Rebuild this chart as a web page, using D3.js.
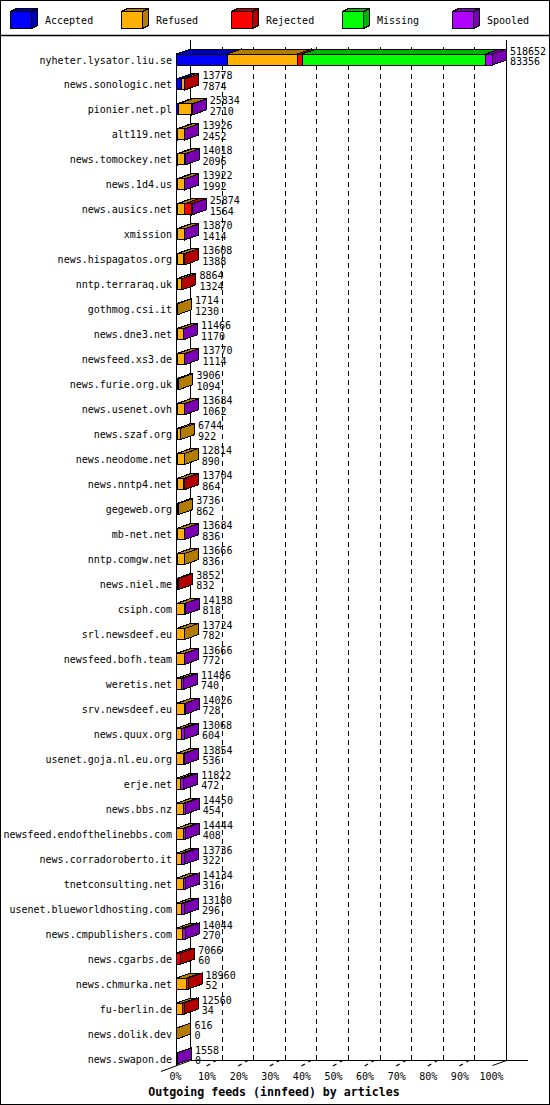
<!DOCTYPE html>
<html>
<head>
<meta charset="utf-8">
<script src="https://cdn.jsdelivr.net/npm/d3@7"></script>
<style>
  body { margin: 0; background: #fff; }
  svg text { font-family: "DejaVu Sans Mono", monospace; font-size: 10px; fill: #000; }
</style>
</head>
<body>
<script>

// innfeed outgoing feeds, articles per peer
var hosts = ["nyheter.lysator.liu.se", "news.sonologic.net", "pionier.net.pl", "alt119.net", "news.tomockey.net",
  "news.1d4.us", "news.ausics.net", "xmission", "news.hispagatos.org", "nntp.terraraq.uk", "gothmog.csi.it",
  "news.dne3.net", "newsfeed.xs3.de", "news.furie.org.uk", "news.usenet.ovh", "news.szaf.org", "news.neodome.net",
  "news.nntp4.net", "gegeweb.org", "mb-net.net", "nntp.comgw.net", "news.niel.me", "csiph.com", "srl.newsdeef.eu",
  "newsfeed.bofh.team", "weretis.net", "srv.newsdeef.eu", "news.quux.org", "usenet.goja.nl.eu.org", "erje.net",
  "news.bbs.nz", "newsfeed.endofthelinebbs.com", "news.corradoroberto.it", "tnetconsulting.net",
  "usenet.blueworldhosting.com", "news.cmpublishers.com", "news.cgarbs.de", "news.chmurka.net", "fu-berlin.de",
  "news.dolik.dev", "news.swapon.de"];

var offered = [518652, 13778, 25834, 13926, 14018, 13922, 25874, 13870, 13608, 8864, 1714,
  11466, 13770, 3906, 13684, 6744, 12814, 13704, 3736, 13684, 13666, 3852, 14138, 13724,
  13666, 11486, 14026, 13068, 13854, 11822, 14450, 14444, 13736, 14134, 13180, 14044,
  7066, 18960, 12560, 616, 1558];

var accepted = [83356, 7874, 2710, 2452, 2096, 1992, 1564, 1414, 1388, 1324, 1230,
  1170, 1114, 1094, 1062, 922, 890, 864, 862, 836, 836, 832, 818, 782,
  772, 740, 728, 604, 536, 472, 454, 408, 322, 316, 296, 270,
  60, 52, 34, 0, 0];

var refused = [114900, 5400, 22400, 10874, 11322, 11330, 11500, 11856, 10920, 7040, 484,
  9796, 12056, 2812, 12022, 5822, 11924, 10600, 2874, 12248, 12830, 1000, 12720, 12942,
  12294, 7000, 12698, 8100, 11000, 6300, 11000, 11200, 8000, 11200, 8600, 9000,
  500, 16500, 9700, 616, 0];

var rejected = [8200, 504, 0, 0, 0, 0, 12300, 0, 1300, 500, 0,
  0, 0, 0, 0, 0, 0, 2240, 0, 0, 0, 2020, 0, 0,
  0, 0, 0, 0, 0, 0, 0, 0, 0, 0, 0, 0,
  6506, 2408, 2826, 0, 0];

var missing = [301196, 0, 0, 0, 0, 0, 0, 0, 0, 0, 0,
  0, 0, 0, 0, 0, 0, 0, 0, 0, 0, 0, 0, 0,
  0, 0, 0, 0, 0, 0, 0, 0, 0, 0, 0, 0,
  0, 0, 0, 0, 0];

var spooled = [11000, 0, 724, 600, 600, 600, 510, 600, 0, 0, 0,
  500, 600, 0, 600, 0, 0, 0, 0, 600, 0, 0, 600, 0,
  600, 3746, 600, 4364, 2318, 5050, 2996, 2836, 5414, 2618, 4284, 4774,
  0, 0, 0, 0, 1558];

var keys = ["Accepted", "Refused", "Rejected", "Missing", "Spooled"];
var colors = ["#0000ff", "#ffb000", "#ff0000", "#00ff00", "#b000ff"];
var pctTicks = [0, 10, 20, 30, 40, 50, 60, 70, 80, 90, 100];

var w = 550;
var h = 1105;
var depthX = 14, depthY = -5;
var barH = 11;

var table = hosts.map(function(name, i) {
  return { host: name, Accepted: accepted[i], Refused: refused[i], Rejected: rejected[i],
           Missing: missing[i], Spooled: spooled[i], offered: offered[i] };
});

var svg = d3.select("body")
            .append("svg")
            .attr("width", w)
            .attr("height", h);

var color = d3.scaleOrdinal().domain(keys).range(colors);
function dark(c) { return d3.rgb(c).darker(1).formatHex(); }

// draws one 3d box: front, top and right side
function box(g, x0, x1, t, b, ddx, ddy, c) {
  g.append("polygon")
    .attr("points", [[x0, t], [x0 + ddx, t + ddy], [x1 + ddx, t + ddy], [x1, t]].join(" "))
    .attr("fill", dark(c)).attr("stroke", "#000");
  g.append("rect")
    .attr("x", x0).attr("y", t).attr("width", x1 - x0).attr("height", b - t)
    .attr("fill", c).attr("stroke", "#000");
  g.append("polygon")
    .attr("points", [[x1, t], [x1 + ddx, t + ddy], [x1 + ddx, b + ddy], [x1, b]].join(" "))
    .attr("fill", dark(c)).attr("stroke", "#000");
}

// frame and legend separator
svg.append("rect")
   .attr("x", 0.5).attr("y", 0.5).attr("width", w - 1).attr("height", h - 1)
   .attr("fill", "#fff").attr("stroke", "#000");
svg.append("line")
   .attr("x1", 0).attr("x2", w).attr("y1", 35.5).attr("y2", 35.5)
   .attr("stroke", "#000").attr("stroke-width", 1.5);

// legend
var legend = svg.append("g").attr("shape-rendering", "crispEdges");
keys.forEach(function(k, i) {
  var bx = Math.round(10 + i * 110.5) + 0.5;
  box(legend, bx, bx + 21, 11.5, 28.5, 6, -3, color(k));
  legend.append("text").attr("x", bx + 34.5).attr("y", 24).text(k);
});

// scales
var y = d3.scalePoint().domain(hosts).range([59.5, 1058.5]);
var x = d3.scaleLinear().domain([0, d3.max(offered)]).range([176.5, 492.5]);
var pct = d3.scaleLinear().domain([0, 100]).range([176.5, 492.5]);

var axisG = svg.append("g").attr("shape-rendering", "crispEdges");

// back wall
axisG.append("line")
  .attr("x1", pct(0) + depthX).attr("x2", pct(0) + depthX).attr("y1", 40).attr("y2", 1060.5)
  .attr("stroke", "#000");
axisG.append("line")
  .attr("x1", pct(100) + depthX).attr("x2", pct(100) + depthX).attr("y1", 40).attr("y2", 1060.5)
  .attr("stroke", "#000");
axisG.selectAll(".grid")
  .data(pctTicks.slice(1, -1))
  .enter()
  .append("line")
  .attr("class", "grid")
  .attr("x1", function(d) { return pct(d) + depthX; })
  .attr("x2", function(d) { return pct(d) + depthX; })
  .attr("y1", 47).attr("y2", 1060)
  .attr("stroke", "#000")
  .attr("stroke-dasharray", "5,4");

// floor
axisG.append("line")
  .attr("x1", pct(0) + depthX).attr("x2", 528).attr("y1", 1060.5).attr("y2", 1060.5)
  .attr("stroke", "#000");
svg.append("line")
  .attr("x1", pct(0) + depthX).attr("y1", 1060.5).attr("x2", 161).attr("y2", 1071.5)
  .attr("stroke", "#000");
svg.append("line")
  .attr("x1", pct(100)).attr("y1", 1065.5).attr("x2", pct(100) + depthX).attr("y2", 1060.5)
  .attr("stroke", "#000");
svg.selectAll(".ftick")
  .data(pctTicks.slice(1, -1))
  .enter()
  .append("line")
  .attr("class", "ftick")
  .attr("x1", function(d) { return pct(d) - 1.5; })
  .attr("x2", function(d) { return pct(d) + 9; })
  .attr("y1", 1066).attr("y2", 1060)
  .attr("stroke", "#000")
  .attr("stroke-width", 1.3)
  .attr("stroke-dasharray", "4,4,3");

// front left axis line
axisG.append("line")
  .attr("x1", pct(0)).attr("x2", pct(0)).attr("y1", 54).attr("y2", 1066)
  .attr("stroke", "#000");

// stacked 3d bars
var series = d3.stack().keys(keys)(table);
var bars = svg.append("g").attr("shape-rendering", "crispEdges");
table.forEach(function(row, i) {
  var c = y(row.host);
  var g = bars.append("g");
  series.forEach(function(s) {
    var seg = s[i];
    if (seg[1] - seg[0] <= 0) return;
    box(g, x(seg[0]), x(seg[1]), c - barH / 2, c + barH / 2, depthX, depthY, color(s.key));
  });
});

// value labels: offered and accepted
var labels = svg.append("g");
table.forEach(function(row, i) {
  var c = y(row.host);
  var tx = x(row.offered) + depthX + 3.5;
  labels.append("text").attr("x", tx).attr("y", c - 5).text(row.offered);
  labels.append("text").attr("x", tx).attr("y", c + 5.5).text(accepted[i]);
});

// host names
var yAxis = d3.axisLeft(y).tickSize(0).tickPadding(4.5);
svg.append("g")
   .attr("transform", "translate(" + pct(0) + ",0)")
   .call(yAxis)
   .call(function(g) { g.select(".domain").remove(); })
   .selectAll("text")
   .attr("font-family", null).attr("font-size", null)
   .attr("dy", "0.35em");

// percent ticks
var xAxis = d3.axisBottom(pct).tickValues(pctTicks).tickSize(0).tickPadding(7.4)
              .tickFormat(function(d) { return d + "%"; });
svg.append("g")
   .attr("transform", "translate(-1.5,1065)")
   .call(xAxis)
   .call(function(g) { g.select(".domain").remove(); })
   .selectAll("text")
   .attr("font-family", null).attr("font-size", null);

svg.append("text")
   .attr("x", 274)
   .attr("y", 1096)
   .attr("text-anchor", "middle")
   .attr("font-weight", "bold")
   .style("font-size", "11.6px")
   .text("Outgoing feeds (innfeed) by articles");

</script>
</body>
</html>
